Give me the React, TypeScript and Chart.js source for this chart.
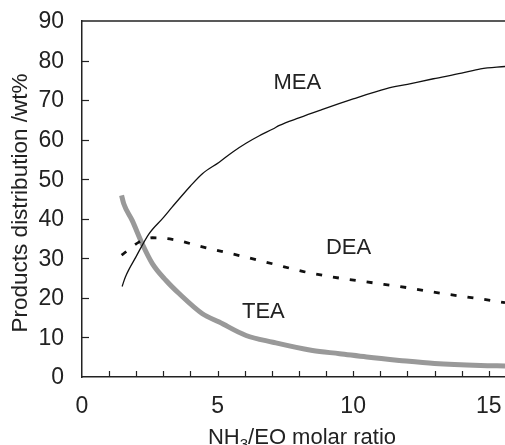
import React, { useEffect, useRef } from "react";
import { Chart, registerables } from "chart.js";

Chart.register(...registerables);

// ---- Data ----
const meaX = [1.48, 1.6, 2.0, 2.47, 3.0, 3.33, 4.0, 4.44, 5.06, 5.56, 6.05, 6.54, 7.04, 7.28, 8.0, 8.77, 10.0, 11.23, 12.0, 12.96, 14.0, 14.7, 15.6];
const meaY = [22.9, 25.3, 30.5, 36.2, 40.3, 43.0, 48.3, 51.4, 54.3, 56.9, 59.1, 61.0, 62.7, 63.6, 65.5, 67.4, 70.3, 72.9, 74.0, 75.4, 76.8, 77.9, 78.5];

const deaX = [1.46, 2.1, 2.6, 3.33, 4.44, 5.8, 7.04, 8.27, 9.5, 10.74, 11.98, 13.2, 14.44, 15.6];
const deaY = [30.8, 34.1, 35.2, 34.8, 32.9, 30.7, 28.6, 26.5, 25.0, 23.8, 22.6, 21.2, 20.0, 18.8];

const teaX = [1.46, 1.54, 1.85, 2.22, 2.6, 3.1, 3.58, 4.44, 5.06, 6.05, 7.04, 8.5, 9.5, 10.5, 11.7, 13.0, 14.7, 15.6];
const teaY = [45.9, 43.8, 39.6, 33.7, 28.6, 24.4, 21.1, 16.0, 13.9, 10.5, 8.8, 6.7, 5.9, 5.05, 4.2, 3.4, 2.9, 2.8];

const xTickValues = [0, 5, 10, 15];
const xMinorTicks = [1, 2, 3, 4, 5, 6, 7, 8, 9, 10, 11, 12, 13, 14, 15];
const yTickValues = [0, 10, 20, 30, 40, 50, 60, 70, 80, 90];

const seriesNames = ["MEA", "DEA", "TEA"];
const labelPosX = [7.94, 9.83, 6.69];
const labelPosY = [74.3, 32.6, 16.4];

const xTitleMain = "NH";
const xTitleSub = "3";
const xTitleRest = "/EO molar ratio";
const yTitle = "Products distribution /wt%";

const FONT = "'Liberation Sans', Arial, Helvetica, sans-serif";
const TEXT = "#222";

function pts(xs: number[], ys: number[]) {
  return xs.map((x, i) => ({ x, y: ys[i] }));
}

const framePlugin = {
  id: "framePlugin",
  afterDraw(chart: any) {
    const ctx = chart.ctx as CanvasRenderingContext2D;
    const { left, right, top, bottom } = chart.chartArea;
    const xs = chart.scales.x;
    const ys = chart.scales.y;
    ctx.save();
    ctx.strokeStyle = "#222";
    ctx.lineWidth = 1.5;
    // top frame line
    ctx.beginPath();
    ctx.moveTo(left, top);
    ctx.lineTo(right, top);
    ctx.stroke();
    // inward y ticks
    ctx.lineWidth = 1.2;
    for (const v of yTickValues) {
      if (v === 0 || v === 90) continue;
      const py = Math.round(ys.getPixelForValue(v)) + 0.5;
      ctx.beginPath();
      ctx.moveTo(left, py);
      ctx.lineTo(left + 7, py);
      ctx.stroke();
    }
    // inward x minor ticks
    for (const v of xMinorTicks) {
      const px = Math.round(xs.getPixelForValue(v)) + 0.5;
      ctx.beginPath();
      ctx.moveTo(px, bottom);
      ctx.lineTo(px, bottom - 6);
      ctx.stroke();
    }
    ctx.fillStyle = TEXT;
    // tick labels
    ctx.font = `23px ${FONT}`;
    ctx.textBaseline = "middle";
    ctx.textAlign = "right";
    for (const v of yTickValues) {
      ctx.fillText(String(v), left - 18, ys.getPixelForValue(v) + 1);
    }
    ctx.textAlign = "center";
    for (const v of xTickValues) {
      ctx.fillText(String(v), xs.getPixelForValue(v), bottom + 30);
    }
    // series labels
    ctx.font = `22px ${FONT}`;
    ctx.textAlign = "center";
    ctx.textBaseline = "middle";
    seriesNames.forEach((n, i) => {
      ctx.fillText(n, xs.getPixelForValue(labelPosX[i]), ys.getPixelForValue(labelPosY[i]));
    });
    // x title with subscript
    ctx.font = `22px ${FONT}`;
    const wMain = ctx.measureText(xTitleMain).width;
    const wRest = ctx.measureText(xTitleRest).width;
    ctx.font = `15px ${FONT}`;
    const wSub = ctx.measureText(xTitleSub).width;
    const total = wMain + wSub + wRest;
    const cx = 302;
    const baseY = 444;
    let sx = cx - total / 2;
    ctx.textAlign = "left";
    ctx.textBaseline = "alphabetic";
    ctx.font = `22px ${FONT}`;
    ctx.fillText(xTitleMain, sx, baseY);
    sx += wMain;
    ctx.font = `15px ${FONT}`;
    ctx.fillText(xTitleSub, sx, baseY + 5);
    sx += wSub;
    ctx.font = `22px ${FONT}`;
    ctx.fillText(xTitleRest, sx, baseY);
    // y title
    ctx.save();
    ctx.translate(21, 203);
    ctx.rotate(-Math.PI / 2);
    ctx.textAlign = "center";
    ctx.textBaseline = "middle";
    ctx.font = `22.5px ${FONT}`;
    ctx.fillText(yTitle, 0, 0);
    ctx.restore();
    ctx.restore();
  },
};

export default function App() {
  const ref = useRef<HTMLCanvasElement | null>(null);
  useEffect(() => {
    document.body.style.margin = "0";
    const canvas = ref.current;
    if (!canvas) return;
    const chart = new Chart(canvas, {
      type: "line",
      data: {
        datasets: [
          {
            label: "MEA",
            data: pts(meaX, meaY),
            borderColor: "#111",
            borderWidth: 1.3,
            pointRadius: 0,
            cubicInterpolationMode: "monotone",
            fill: false,
          },
          {
            label: "DEA",
            data: pts(deaX, deaY),
            borderColor: "#111",
            borderWidth: 2.8,
            borderDash: [6, 11],
            pointRadius: 0,
            cubicInterpolationMode: "monotone",
            fill: false,
          },
          {
            label: "TEA",
            data: pts(teaX, teaY),
            borderColor: "#999999",
            borderWidth: 5,
            pointRadius: 0,
            cubicInterpolationMode: "monotone",
            fill: false,
          },
        ],
      },
      options: {
        animation: false,
        responsive: false,
        maintainAspectRatio: false,
        layout: { padding: { top: 21, right: 0, left: 0, bottom: 0 } },
        plugins: { legend: { display: false }, tooltip: { enabled: false } },
        scales: {
          x: {
            type: "linear",
            min: 0,
            max: 15.6,
            afterBuildTicks: (s: any) => {
              s.ticks = xTickValues.map((v) => ({ value: v }));
            },
            afterFit: (s: any) => {
              s.height = 68;
            },
            grid: { display: false, drawTicks: false },
            border: { display: true, color: "#222", width: 1.5 },
            ticks: { display: false },
          },
          y: {
            type: "linear",
            min: 0,
            max: 90,
            afterBuildTicks: (s: any) => {
              s.ticks = yTickValues.map((v) => ({ value: v }));
            },
            afterFit: (s: any) => {
              s.width = 82;
            },
            grid: { display: false, drawTicks: false },
            border: { display: true, color: "#222", width: 1.5 },
            ticks: { display: false },
          },
        },
      },
      plugins: [framePlugin],
    } as any);
    return () => chart.destroy();
  }, []);
  return (
    <div style={{ position: "absolute", left: 0, top: 0, width: 505, height: 445 }}>
      <canvas ref={ref} width={505} height={445} style={{ display: "block" }} />
    </div>
  );
}
